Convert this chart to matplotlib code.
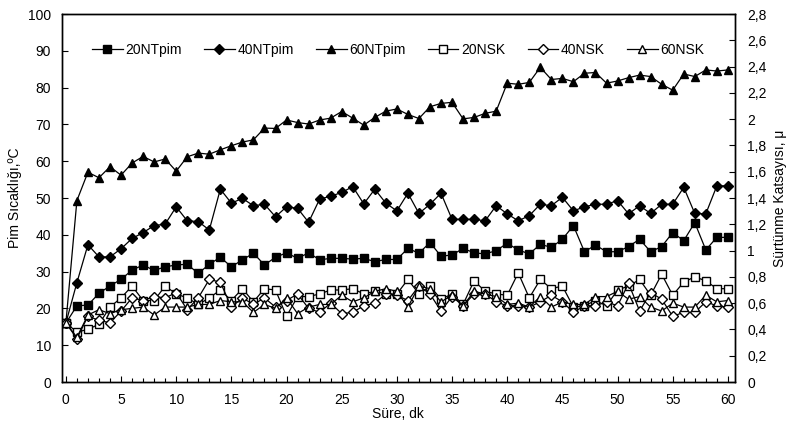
# pim temperature and friction coefficient vs time

import numpy as np
from matplotlib import pyplot as plt
from matplotlib.ticker import MultipleLocator, FuncFormatter

plt.rcParams['font.family'] = ['Liberation Sans', 'DejaVu Sans']

sure = np.arange(0, 61)

# pin temperature, C (left axis)
nt20 = [16, 20.7, 20.9, 24.1, 26.1, 27.9, 30.4, 31.8, 30.3, 31.3, 31.8,
        32.0, 29.5, 32.0, 33.9, 31.3, 33.2, 35.0, 31.8, 33.9, 35.1,
        33.6, 35.1, 33.2, 33.6, 33.6, 33.4, 33.6, 32.7, 33.3, 33.3,
        36.3, 35.0, 37.9, 34.2, 34.5, 36.3, 35.1, 34.8, 35.7, 37.7,
        35.9, 34.8, 37.4, 36.6, 38.8, 42.5, 35.4, 37.2, 35.4, 35.4,
        36.8, 38.8, 35.4, 36.8, 40.6, 38.4, 43.3, 35.9, 39.3, 39.3]
nt40 = [16, 27.0, 37.3, 34.0, 34.0, 36.2, 39.0, 40.6, 42.5, 42.9, 47.6,
        43.8, 43.6, 41.3, 52.4, 48.6, 49.9, 47.9, 48.3, 44.9, 47.6,
        47.2, 43.4, 49.7, 50.5, 51.5, 53.1, 48.4, 52.4, 48.6, 46.5,
        51.3, 45.8, 48.3, 51.3, 44.2, 44.2, 44.2, 43.8, 47.9, 45.7,
        43.8, 45.2, 48.3, 47.9, 50.2, 46.5, 47.6, 48.3, 48.3, 49.3,
        45.7, 47.9, 45.8, 48.3, 48.3, 52.9, 45.8, 45.7, 53.3, 53.3]
nt60 = [16, 49.3, 57.0, 55.5, 58.5, 56.2, 59.5, 61.3, 59.8, 60.6, 57.3,
        61.2, 62.2, 61.9, 63.1, 64.2, 65.2, 65.8, 69.0, 68.9, 71.2,
        70.5, 70.1, 71.2, 71.7, 73.5, 71.7, 69.8, 71.9, 73.6, 74.2,
        72.7, 71.6, 74.8, 75.7, 76.0, 71.5, 71.9, 73.0, 73.6, 81.2,
        80.9, 81.4, 85.5, 82.2, 82.5, 81.6, 83.9, 84.1, 81.2, 81.8,
        82.7, 83.4, 83.0, 80.9, 79.3, 83.7, 83.0, 84.8, 84.5, 84.8]

# friction coefficient (right axis)
nsk20 = [0.45, 0.38, 0.40, 0.44, 0.57, 0.64, 0.73, 0.62, 0.62, 0.73, 0.67,
         0.64, 0.59, 0.64, 0.70, 0.62, 0.71, 0.61, 0.71, 0.70, 0.50,
         0.65, 0.65, 0.67, 0.70, 0.70, 0.71, 0.67, 0.69, 0.67, 0.67,
         0.78, 0.67, 0.73, 0.63, 0.67, 0.59, 0.77, 0.69, 0.67, 0.66,
         0.83, 0.64, 0.78, 0.71, 0.73, 0.57, 0.58, 0.62, 0.58, 0.70,
         0.73, 0.78, 0.66, 0.82, 0.66, 0.76, 0.80, 0.77, 0.71, 0.71]
nsk40 = [0.45, 0.33, 0.50, 0.47, 0.45, 0.54, 0.64, 0.62, 0.65, 0.64, 0.68,
         0.55, 0.64, 0.78, 0.76, 0.57, 0.64, 0.59, 0.64, 0.57, 0.62,
         0.67, 0.56, 0.53, 0.60, 0.52, 0.53, 0.58, 0.60, 0.67, 0.66,
         0.62, 0.73, 0.67, 0.54, 0.65, 0.58, 0.67, 0.67, 0.61, 0.58,
         0.58, 0.57, 0.61, 0.66, 0.61, 0.53, 0.58, 0.58, 0.61, 0.58,
         0.75, 0.54, 0.68, 0.63, 0.50, 0.53, 0.53, 0.61, 0.58, 0.57]
nsk60 = [0.45, 0.34, 0.51, 0.55, 0.52, 0.55, 0.56, 0.57, 0.51, 0.57, 0.57,
         0.57, 0.59, 0.59, 0.62, 0.61, 0.61, 0.53, 0.59, 0.56, 0.64,
         0.52, 0.57, 0.59, 0.59, 0.66, 0.61, 0.64, 0.69, 0.71, 0.69,
         0.57, 0.73, 0.71, 0.61, 0.66, 0.58, 0.69, 0.67, 0.65, 0.59,
         0.60, 0.57, 0.65, 0.57, 0.61, 0.59, 0.59, 0.65, 0.65, 0.69,
         0.63, 0.65, 0.57, 0.54, 0.60, 0.57, 0.57, 0.66, 0.61, 0.62]

fig = plt.figure(figsize=(7.89, 4.32), dpi=100)
ax = fig.add_axes([62 / 789, 1 - 382 / 432, (734.5 - 62) / 789, 368 / 432])
ax2 = ax.twinx()

kw = dict(color='black', lw=0.9, markersize=5.8)
h1, = ax.plot(sure, nt20, marker='s', label='20NTpim', **kw)
h2, = ax.plot(sure, nt40, marker='D', label='40NTpim', markersize=5.2, color='black', lw=0.9)
h3, = ax.plot(sure, nt60, marker='^', label='60NTpim', **kw)
h4, = ax2.plot(sure, nsk20, marker='s', mfc='white', label='20NSK', **kw)
h5, = ax2.plot(sure, nsk40, marker='D', mfc='white', label='40NSK', markersize=5.2, color='black', lw=0.9)
h6, = ax2.plot(sure, nsk60, marker='^', mfc='white', label='60NSK', **kw)

ax.set_xlim(-0.35, 60.6)
ax.set_ylim(0, 100)
ax2.set_ylim(0, 2.8)
ax.xaxis.set_major_locator(MultipleLocator(5))
ax.xaxis.set_minor_locator(MultipleLocator(1))
ax.yaxis.set_major_locator(MultipleLocator(10))
ax2.yaxis.set_major_locator(MultipleLocator(0.2))
ax2.yaxis.set_major_formatter(FuncFormatter(lambda v, p: f"{v:.1f}".rstrip('0').rstrip('.').replace('.', ',')))

for a in (ax, ax2):
    a.tick_params(which='both', direction='in', labelsize=10, width=0.8)
    a.tick_params(which='major', length=4)
    a.tick_params(which='minor', length=3)
    for s in a.spines.values():
        s.set_linewidth(1.0)
ax.tick_params(axis='x', pad=8)
ax.tick_params(axis='y', pad=8)
ax2.tick_params(axis='y', pad=9)

ax.set_xlabel('Süre, dk', fontsize=10, labelpad=0)
ax.set_ylabel('Pim Sıcaklığı,ºC', fontsize=10, labelpad=4)
ax2.set_ylabel('Sürtünme Katsayısı, μ', fontsize=10, labelpad=5)

ax.legend(handles=[h1, h2, h3, h4, h5, h6], loc='upper center', bbox_to_anchor=(0.5, 0.955),
          ncol=6, frameon=False, fontsize=10, handlelength=2.2, columnspacing=1.6,
          handletextpad=0.2)

plt.savefig('out.png', dpi=100)
